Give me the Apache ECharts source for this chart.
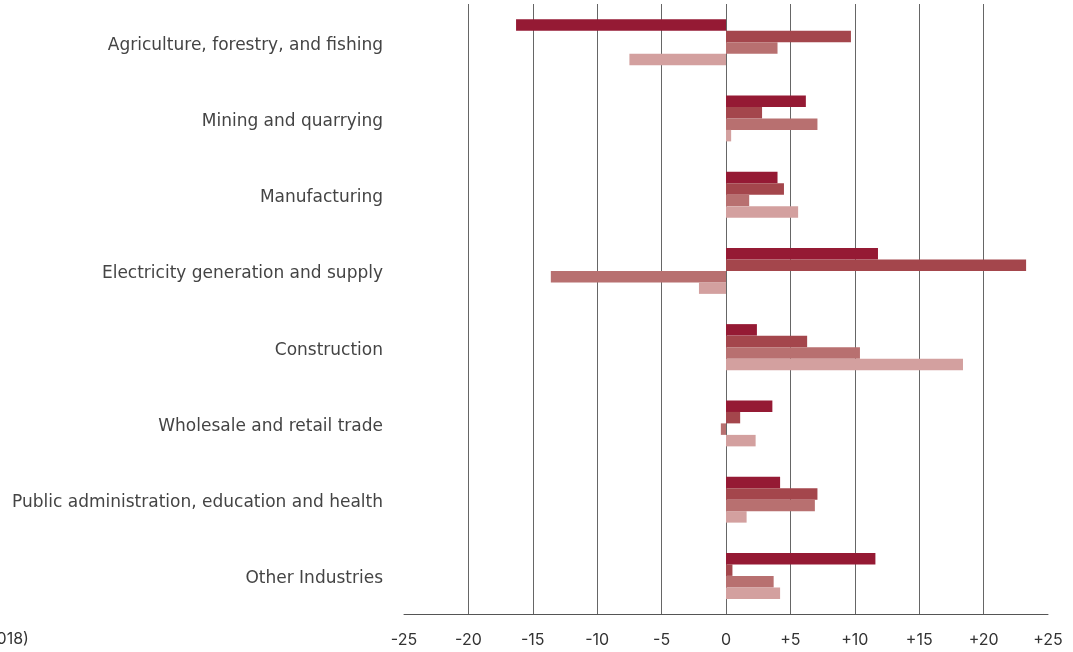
<!DOCTYPE html>
<html>
<head>
<meta charset="utf-8">
<script src="https://cdn.jsdelivr.net/npm/echarts@6/dist/echarts.min.js"></script>
<style>
  html, body { margin: 0; padding: 0; background: #fff; }
  #chart { width: 1073px; height: 652px; }
</style>
</head>
<body>
<div id="chart"></div>
<script>
const categories = [
  'Agriculture, forestry, and fishing',
  'Mining and quarrying',
  'Manufacturing',
  'Electricity generation and supply',
  'Construction',
  'Wholesale and retail trade',
  'Public administration, education and health',
  'Other Industries'
]
const series1 = [-16.3, 6.2, 4.0, 11.8, 2.4, 3.6, 4.2, 11.6]
const series2 = [9.7, 2.8, 4.5, 23.3, 6.3, 1.1, 7.1, 0.5]
const series3 = [4.0, 7.1, 1.8, -13.6, 10.4, -0.4, 6.9, 3.7]
const series4 = [-7.5, 0.4, 5.6, -2.1, 18.4, 2.3, 1.6, 4.2]
const colors = ['#951a34', '#a4464c', '#b87070', '#d3a09f']

const font = '"DejaVu Sans", sans-serif'
const tickFont = 'Inter, sans-serif'
const chart = echarts.init(document.getElementById('chart'))

const makeBar = (name, data, i) => ({
  name,
  type: 'bar',
  data,
  barWidth: 11.5,
  barGap: '0%',
  itemStyle: { color: colors[i] },
  animation: false
})

chart.setOption({
  grid: { left: 404, right: 25, top: 4, bottom: 38, containLabel: false },
  graphic: [{
    type: 'text',
    left: -19,
    top: 631,
    style: { text: '(2018)', fill: '#333', font: '16px ' + tickFont }
  }],
  xAxis: {
    type: 'value',
    min: -25,
    max: 25,
    interval: 5,
    axisLine: { show: true, onZero: false, lineStyle: { color: '#555', width: 1 } },
    axisTick: { show: false },
    axisLabel: {
      color: '#333',
      fontSize: 16,
      fontFamily: tickFont,
      margin: 18,
      formatter: v => (v > 0 ? '+' + v : '' + v)
    },
    splitLine: {
      show: true,
      showMinLine: false,
      showMaxLine: false,
      lineStyle: { color: '#666', width: 1 }
    }
  },
  yAxis: {
    type: 'category',
    data: categories,
    inverse: true,
    axisLine: { show: false },
    axisTick: { show: false },
    axisLabel: {
      margin: 21,
      formatter: v => '{a|' + v + '}',
      rich: {
        a: {
          color: '#444',
          fontSize: 17,
          fontFamily: font,
          padding: [6, 0, 0, 0]
        }
      }
    }
  },
  series: [
    makeBar('s1', series1, 0),
    makeBar('s2', series2, 1),
    makeBar('s3', series3, 2),
    makeBar('s4', series4, 3)
  ]
})
</script>
</body>
</html>
